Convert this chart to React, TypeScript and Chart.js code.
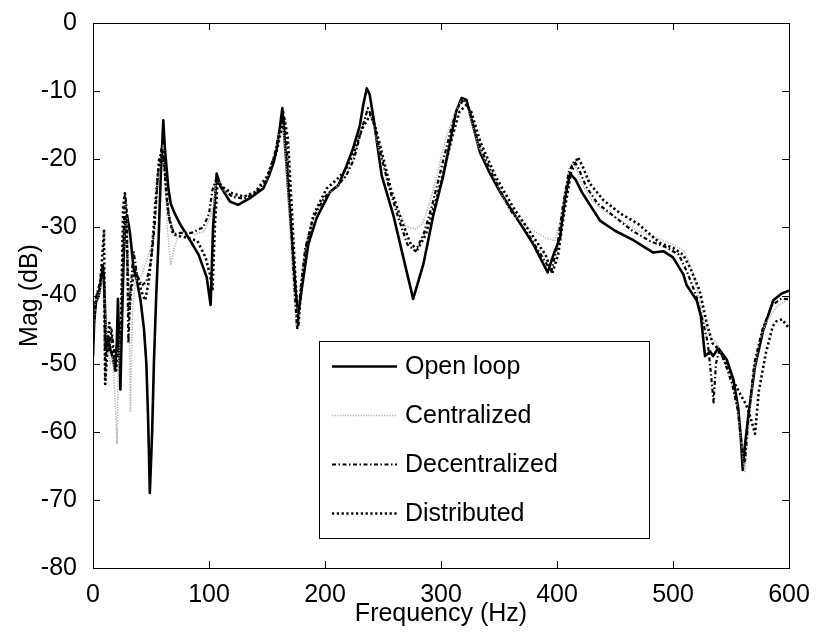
import React, { useEffect, useRef } from "react";
import { Chart, registerables } from "chart.js";
Chart.register(...registerables);

const FONT = "'Liberation Sans', Arial, Helvetica, sans-serif";

const xTickValues = [0, 100, 200, 300, 400, 500, 600];
const yTickValues = [0, -10, -20, -30, -40, -50, -60, -70, -80];
const seriesLabels = ["Open loop", "Centralized", "Decentralized", "Distributed"];

const openLoopFreq = [0, 1, 2.5, 5, 7.5, 8.6, 10, 11.5, 13, 15, 17, 19, 20.5, 21.5, 22.5, 23.6, 25, 26.5, 28, 29.4, 32, 35, 38, 41, 44, 46, 47.5, 49, 51, 52.5, 54.5, 56.5, 58.5, 60.6, 62, 65, 67, 70, 75, 84, 91, 98, 101.4, 103.5, 106.6, 110, 118, 125, 135.3, 146.8, 152, 156, 158.3, 161, 163.2, 166, 169, 172, 175, 177, 180, 185.6, 192.8, 204.3, 211.5, 218.7, 224, 230, 233, 236, 238.5, 241.6, 248.9, 258.9, 267.5, 276, 284.8, 293.4, 302, 307.8, 313, 317.8, 322, 326, 333.6, 342, 350.9, 365.2, 379.6, 392, 397, 402.6, 406.9, 411.2, 416, 421.3, 437, 450, 465, 483, 491.6, 500, 508.9, 511.8, 520.4, 524, 527.6, 532, 534.5, 539, 546.3, 552, 556.3, 558.5, 560.1, 562, 565, 570.7, 577.8, 586.5, 593.7, 600];
const openLoopMag = [-49, -44, -41, -40, -37, -35.6, -40, -48, -46, -48, -49, -51, -47, -40.5, -47, -53.8, -44, -34, -29, -28.2, -31, -36, -38, -40.7, -45, -50, -58, -69, -60, -50, -40, -32, -22, -14.3, -18.5, -24.3, -26.5, -27.8, -29.5, -32, -34, -37.3, -41.4, -30, -22.1, -24, -26.2, -26.7, -25.7, -24.3, -22.3, -20.3, -18.5, -15.5, -12.5, -19, -26, -33, -40, -42.6, -39, -32.5, -28.6, -24.8, -23.8, -20.9, -18.5, -15.1, -12, -9.6, -10.5, -13.7, -22.4, -28.2, -34.4, -40.5, -35.4, -28.2, -22.4, -17.5, -13, -11, -11.3, -14, -19, -22, -24.8, -28.6, -32.5, -36.6, -34, -31.5, -25.7, -22.1, -23, -24.8, -29, -30.5, -31.8, -33.7, -33.5, -34.4, -36.9, -38.5, -40.7, -43, -48.9, -48.2, -48.9, -47.7, -49.4, -52.3, -56.6, -61, -65.6, -62, -57.6, -50.4, -45.1, -40.7, -39.7, -39.3];

const centralizedFreq = [0, 2, 5, 8, 9.5, 11, 13, 15, 17, 19, 20.7, 22, 24, 26, 28, 29.5, 31, 32.3, 34, 37, 42, 46, 50, 53, 56, 58.5, 60.5, 62, 64, 67, 70, 74, 80, 88, 95.7, 100, 104, 106, 108, 112, 120, 130, 140, 150, 156, 160, 163.5, 166, 169, 172, 175, 178, 181, 186, 193, 200, 210, 218, 225, 230, 234, 237, 241, 247, 255, 263, 270, 277.6, 284, 290, 297, 304, 311, 317, 320, 324, 332, 345, 359.5, 375, 390, 398, 403, 407, 410, 413, 416, 421, 430, 440, 455, 470, 485, 500, 510, 517, 522, 527, 532, 538, 544, 550, 555, 559, 562, 565, 569, 574, 580, 590, 600];
const centralizedMag = [-46, -41, -40, -38, -37, -44, -48, -50, -49, -55, -61.7, -50, -44, -34, -29, -28.5, -40, -56.9, -42, -37.5, -37, -35, -33, -30, -24, -19, -18, -22, -30, -35.4, -33, -31, -30.8, -31, -30.6, -29, -26.7, -23.5, -23, -24.5, -25.5, -25.5, -24.8, -23, -19.5, -16.5, -15, -20, -28, -37, -44.5, -40, -35, -31, -27.5, -25.5, -24, -22.5, -19.5, -16.5, -14, -12.8, -14.5, -19, -24, -27.5, -29.8, -30.3, -29.5, -26.5, -22, -17, -13.5, -11.5, -11.3, -13, -18, -22.5, -27.7, -30, -31.5, -32, -29, -24.5, -21.5, -20.5, -21, -23.5, -26, -27.5, -29, -30.5, -31.5, -32.5, -33.5, -36.5, -40, -44, -46, -47, -49.5, -52.5, -56, -62, -66, -60, -52, -47, -44, -41.5, -40.6];

const decentralizedFreq = [0, 3, 6, 8, 9.5, 10.5, 12, 14, 16, 18, 20, 22, 24, 26, 27.5, 29, 30.5, 32, 35, 38, 42, 46, 50, 53, 56, 59, 61, 63, 66, 70, 75, 85, 95, 100, 103, 106, 110, 120, 130, 140, 150, 157, 161, 164, 167, 170, 173, 176, 179, 183, 190, 200, 210, 218, 225, 231, 237, 241, 247, 255, 263, 271, 278, 285, 292, 300, 308, 314, 320, 324, 332, 345, 360, 375, 388, 395, 400, 405, 410, 415, 419, 425, 435, 450, 465, 480, 495, 505, 512, 520, 526, 530, 533, 535, 537, 540, 545, 551, 556, 560, 562, 565, 570, 577, 585, 593, 600];
const decentralizedMag = [-45, -40, -38, -35.5, -36.5, -52, -46, -48, -45, -48, -50, -44, -47, -34, -25, -27, -47, -40, -33.5, -37, -38.5, -38, -35, -30, -22, -18.5, -19, -25, -29, -31, -30.8, -30.8, -30, -28, -24.5, -23, -24, -25.5, -25.8, -25, -23, -19, -15.5, -13, -18, -27, -37, -45, -39, -33, -28.5, -25.5, -24, -22.5, -20, -16, -12.5, -14, -18.5, -24, -28.5, -32.5, -33.5, -31, -27, -21.5, -16, -12.5, -11.2, -12.5, -17.5, -22.5, -27.5, -31, -34.5, -36.5, -33, -27, -22, -20.2, -21.5, -24, -26.5, -28.5, -30.5, -32, -33, -34, -36.5, -40, -44, -47, -52, -55.7, -50, -48, -50, -53, -57, -63, -64.5, -58, -50, -45, -41.5, -40.5, -40.5];

const distributedFreq = [0, 3, 6, 8.5, 9.5, 10.5, 12, 14, 16, 18, 20, 22, 24, 26, 27.5, 29, 31, 33, 36, 38, 42, 45, 48, 51, 54, 57, 60, 62, 65, 69, 75, 81, 90, 97, 101, 103, 105, 107.5, 111, 120, 130, 140, 150, 158, 162, 165, 168, 171, 174, 177, 180, 184, 190, 201.4, 210, 218, 226, 232, 239, 243, 249, 257, 266, 274, 280, 287, 294, 302, 310, 316, 322, 326, 334, 347, 362, 378, 390, 396, 401, 406, 412, 418, 422, 428, 440, 455, 470, 488.8, 500, 508.6, 515, 523, 529, 534, 540, 546, 552, 558, 563, 567, 570.7, 574, 580, 586, 589, 594, 600];
const distributedMag = [-44, -40, -39, -33, -30.5, -53, -49, -44, -46, -49, -51, -46, -45, -27, -25, -31, -43, -39, -36, -37.1, -39.5, -40.7, -38, -33, -26, -20, -18.8, -22, -28, -31, -31.3, -31.5, -32, -34.4, -37, -39.3, -30, -23, -24, -25, -25.5, -24.8, -22.5, -19, -16, -14, -17, -26, -36, -44.5, -38, -33, -28.2, -24.3, -23, -21.5, -18.5, -15.5, -13.5, -15, -19, -24.5, -29, -32.5, -33.2, -31, -27, -22, -16.5, -13, -12, -13, -17.5, -22.5, -27, -31, -34, -36.7, -34, -28, -22, -19.7, -21, -23.5, -26, -28, -29.5, -32.3, -33, -34, -36, -39.3, -44, -47, -48, -50, -52.5, -54.5, -56, -58, -60.3, -54, -48.5, -44.5, -43.8, -43.5, -44.8];

const zip = (xs: number[], ys: number[]) => xs.map((x, i) => ({ x, y: ys[i] }));

const frameAndLegend = {
  id: "frameAndLegend",
  afterDatasetsDraw(chart: any, _args: any, opts: any) {
    const { ctx, chartArea } = chart;
    const { left, right, top, bottom } = chartArea;
    const xs = chart.scales.x;
    const ys = chart.scales.y;
    const tl = 7;
    ctx.save();
    ctx.strokeStyle = "#000";
    ctx.lineWidth = 1;
    ctx.setLineDash([]);
    ctx.beginPath();
    for (const v of xTickValues) {
      const px = Math.round(xs.getPixelForValue(v)) + 0.5;
      ctx.moveTo(px, bottom);
      ctx.lineTo(px, bottom - tl);
      ctx.moveTo(px, top);
      ctx.lineTo(px, top + tl);
    }
    for (const v of yTickValues) {
      const py = Math.round(ys.getPixelForValue(v)) + 0.5;
      ctx.moveTo(left, py);
      ctx.lineTo(left + tl, py);
      ctx.moveTo(right, py);
      ctx.lineTo(right - tl, py);
    }
    ctx.stroke();
    ctx.strokeRect(Math.round(left) + 0.5, Math.round(top) + 0.5, Math.round(right - left), Math.round(bottom - top));

    const b = opts.box;
    ctx.fillStyle = "#fff";
    ctx.fillRect(b.left, b.top, b.right - b.left, b.bottom - b.top);
    ctx.strokeStyle = "#000";
    ctx.lineWidth = 1;
    ctx.strokeRect(b.left + 0.5, b.top + 0.5, b.right - b.left, b.bottom - b.top);
    const n = chart.data.datasets.length;
    const step = (b.bottom - b.top) / n;
    chart.data.datasets.forEach((ds: any, i: number) => {
      const cy = Math.round(b.top + step * (i + 0.5)) + 0.5;
      ctx.save();
      ctx.strokeStyle = ds.borderColor;
      ctx.lineWidth = ds.borderWidth;
      ctx.setLineDash(ds.borderDash || []);
      ctx.lineCap = "butt";
      ctx.beginPath();
      ctx.moveTo(b.left + 13, cy);
      ctx.lineTo(b.left + 78, cy);
      ctx.stroke();
      ctx.restore();
      ctx.fillStyle = "#000";
      ctx.font = `25px ${FONT}`;
      ctx.textBaseline = "middle";
      ctx.textAlign = "left";
      ctx.fillText(ds.label, b.left + 86, cy + 1);
    });
    ctx.restore();
  },
};

export default function App() {
  const ref = useRef<HTMLCanvasElement | null>(null);
  useEffect(() => {
    document.body.style.margin = "0";
    const canvas = ref.current!;
    const chart = new Chart(canvas, {
      type: "line",
      data: {
        datasets: [
          { label: seriesLabels[0], data: zip(openLoopFreq, openLoopMag), borderColor: "#000", borderWidth: 2.6, order: 4 },
          { label: seriesLabels[1], data: zip(centralizedFreq, centralizedMag), borderColor: "#b0b0b0", borderWidth: 1.6, borderDash: [1.2, 1.4], order: 3 },
          { label: seriesLabels[2], data: zip(decentralizedFreq, decentralizedMag), borderColor: "#000", borderWidth: 2.2, borderDash: [4, 2.5, 1.5, 2.5], order: 2 },
          { label: seriesLabels[3], data: zip(distributedFreq, distributedMag), borderColor: "#000", borderWidth: 2.6, borderDash: [2.2, 2.6], order: 1 },
        ],
      },
      options: {
        responsive: false,
        animation: false,
        devicePixelRatio: 1,
        events: [],
        elements: {
          point: { radius: 0 },
          line: { tension: 0, fill: false, borderCapStyle: "butt", borderJoinStyle: "round" },
        },
        layout: { padding: { top: 15, right: 27, left: 0, bottom: 0 } },
        plugins: {
          legend: { display: false },
          tooltip: { enabled: false },
          frameAndLegend: { box: { left: 319, top: 341, right: 649, bottom: 538 } },
        } as any,
        scales: {
          x: {
            type: "linear",
            min: 0,
            max: 600,
            afterFit: (s: any) => { s.height = 64; },
            afterBuildTicks: (s: any) => { s.ticks = xTickValues.map((v) => ({ value: v })); },
            grid: { display: false },
            border: { display: false },
            ticks: { color: "#000", font: { family: FONT, size: 25 }, padding: 4, maxRotation: 0 },
            title: { display: true, text: "Frequency (Hz)", color: "#000", font: { family: FONT, size: 25 }, padding: { top: 0, bottom: 3 } },
          },
          y: {
            type: "linear",
            min: -80,
            max: 0,
            afterFit: (s: any) => { s.width = 93; },
            afterBuildTicks: (s: any) => { s.ticks = yTickValues.map((v) => ({ value: v })); },
            grid: { display: false },
            border: { display: false },
            ticks: { color: "#000", font: { family: FONT, size: 25 }, padding: 8 },
            title: { display: true, text: "Mag (dB)", color: "#000", font: { family: FONT, size: 25 }, padding: { top: 15, bottom: 0 } },
          },
        },
      },
      plugins: [frameAndLegend],
    });
    return () => chart.destroy();
  }, []);
  return (
    <div style={{ width: 816, height: 632, position: "relative", background: "#fff" }}>
      <canvas ref={ref} width={816} height={632} style={{ display: "block", width: 816, height: 632 }} />
    </div>
  );
}
